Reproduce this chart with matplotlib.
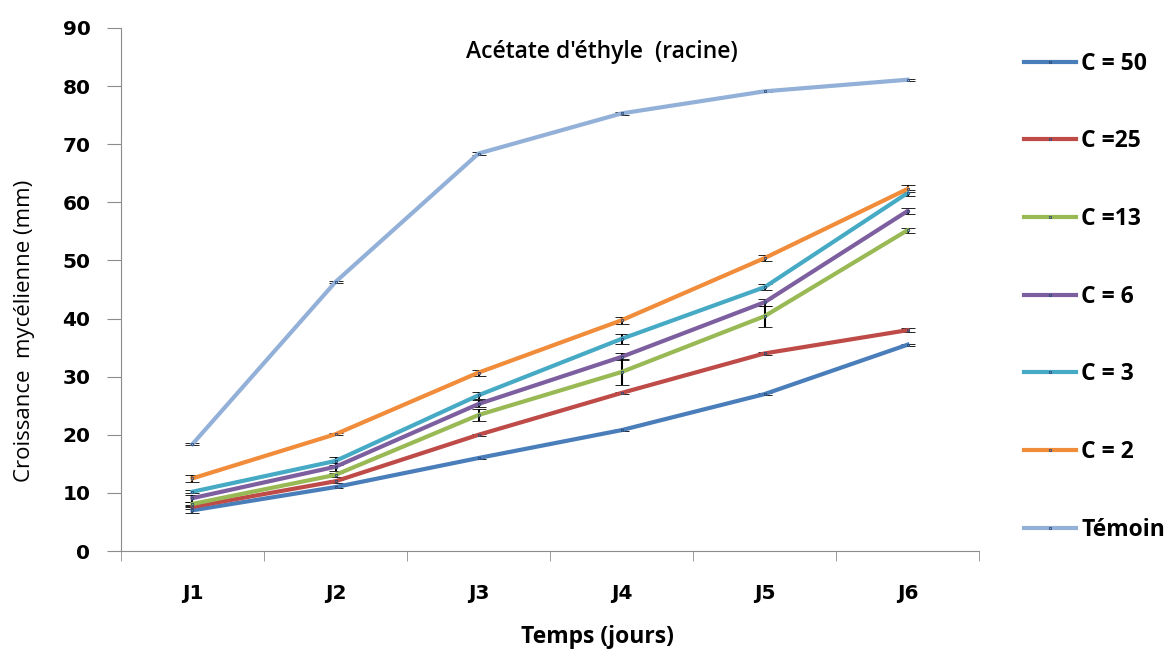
import numpy as np
import matplotlib.pyplot as plt

jours = ['J1', 'J2', 'J3', 'J4', 'J5', 'J6']

c50 = [7.0, 11.0, 16.0, 20.8, 27.0, 35.5]
c25 = [7.6, 12.0, 20.0, 27.2, 34.0, 38.0]
c13 = [8.1, 13.1, 23.4, 30.8, 40.4, 55.2]
c6 = [9.1, 14.5, 25.3, 33.4, 42.8, 58.5]
c3 = [10.2, 15.5, 26.8, 36.5, 45.4, 61.6]
c2 = [12.5, 20.1, 30.7, 39.7, 50.4, 62.3]
temoin = [18.4, 46.3, 68.4, 75.3, 79.1, 81.1]

err50 = [0.5, 0.2, 0.2, 0.2, 0.2, 0.2]
err25 = [0.3, 0.3, 0.2, 0.2, 0.2, 0.3]
err13 = [0.4, 0.4, 1.1, 2.2, 1.8, 0.4]
err6 = [0.6, 0.7, 0.6, 0.6, 0.6, 0.5]
err3 = [0.3, 0.7, 0.6, 0.8, 0.5, 0.5]
err2 = [0.6, 0.2, 0.5, 0.6, 0.5, 0.6]
err_t = [0.2, 0.2, 0.2, 0.2, 0.2, 0.2]

labels = ['C = 50', 'C =25', 'C =13', 'C = 6', 'C = 3', 'C = 2', 'Témoin']
colors = ['#4A7EBB', '#BE4B48', '#98B954', '#7D5FA0', '#46AAC5', '#F08C3A', '#93B1D8']
series = [c50, c25, c13, c6, c3, c2, temoin]
errs = [err50, err25, err13, err6, err3, err2, err_t]

fig = plt.figure(figsize=(11.69, 6.51), dpi=100)
ax = fig.add_axes([0.1035, 0.1536, 0.734, 0.8034])

x = np.arange(len(jours))
for y, e, col, lab in zip(series, errs, colors, labels):
    ax.errorbar(x, y, yerr=e, color=col, lw=3.0, marker='s', ms=2,
                mec='#2B4A75', mew=0.6, mfc=col, ecolor='black', elinewidth=1.5,
                capsize=5, capthick=1.5, label=lab, zorder=3)

ax.set_xlim(-0.5, 5.5)
ax.set_ylim(0, 90)
ax.set_yticks(np.arange(0, 91, 10))
ax.set_xticks(x)
ax.set_xticklabels(jours)
ax.set_xticks(np.arange(-0.5, 5.6, 1), minor=True)
ax.tick_params(axis='x', which='major', length=0, pad=24)
ax.tick_params(axis='x', which='minor', length=7, color='#8c8c8c', direction='out')
ax.tick_params(axis='y', length=10, color='#8c8c8c', direction='out', pad=12)
for lbl in ax.get_xticklabels() + ax.get_yticklabels():
    lbl.set_fontweight('bold')
    lbl.set_fontsize(14.5)
    lbl.set_family('DejaVu Sans')

for s in ['top', 'right']:
    ax.spines[s].set_visible(False)
for s in ['left', 'bottom']:
    ax.spines[s].set_color('#8c8c8c')

ax.set_ylabel('Croissance  mycélienne (mm)', fontsize=16, family='Open Sans')
ax.yaxis.set_label_coords(-0.1, 0.42)
ax.set_xlabel('Temps (jours)', fontsize=16.5, family='Open Sans', fontweight='bold')
ax.xaxis.set_label_coords(0.555, -0.142)
ax.text(0.56, 0.955, "Acétate d'éthyle  (racine)", transform=ax.transAxes,
        ha='center', va='center', fontsize=16.5, family='Open Sans', fontweight='semibold')

handles, labs = ax.get_legend_handles_labels()
handles = [h[0] for h in handles]
fig.legend(handles, labs, loc='upper left', bbox_to_anchor=(0.858, 0.952),
           frameon=False, handlelength=2.3, labelspacing=2.34, handletextpad=0.22,
           prop={'family': 'Open Sans', 'weight': 'bold', 'size': 16.5})

fig.savefig('out.png', dpi=100)
